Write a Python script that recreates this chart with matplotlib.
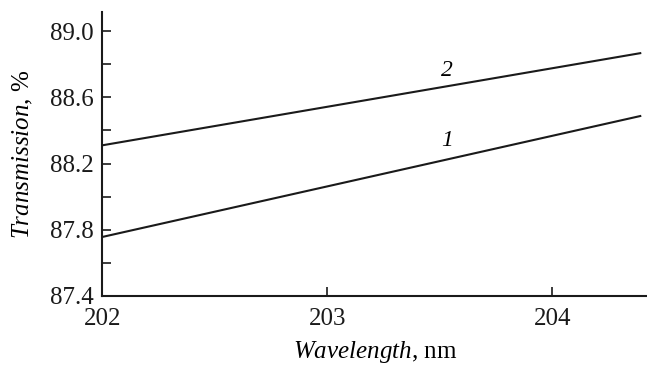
import numpy as np
import matplotlib.pyplot as plt

plt.rcParams['font.family'] = ['Liberation Serif', 'DejaVu Serif']
plt.rcParams['mathtext.fontset'] = 'custom'
plt.rcParams['mathtext.rm'] = 'Liberation Serif'
plt.rcParams['mathtext.it'] = 'Liberation Serif:italic'

wl = [202.0, 204.39]
trans1 = [87.756, 88.487]
trans2 = [88.31, 88.867]

fig = plt.figure(figsize=(6.47, 3.68), dpi=100)
ax = fig.add_axes([0.158, 0.196, 0.842, 0.771])

ax.plot(wl, trans1, color='#1a1a1a', lw=1.5)
ax.plot(wl, trans2, color='#1a1a1a', lw=1.5)

ax.text(203.53, 88.342, '1', fontsize=17, style='italic', ha='center', va='center')
ax.text(203.53, 88.765, '2', fontsize=17, style='italic', ha='center', va='center')

ax.set_xlim(202, 204.42)
ax.set_ylim(87.4, 89.115)
ax.set_xticks([202, 203, 204])
ax.set_yticks([87.4, 87.8, 88.2, 88.6, 89.0])
ax.set_yticks(np.arange(87.6, 89.0, 0.4), minor=True)
ax.set_yticklabels(['87.4', '87.8', '88.2', '88.6', '89.0'])

ax.spines['top'].set_visible(False)
ax.spines['right'].set_visible(False)
for s in ['left', 'bottom']:
    ax.spines[s].set_linewidth(1.5)
    ax.spines[s].set_color('#1a1a1a')

ax.tick_params(which='both', direction='in', length=6.5, width=1.2, colors='#1a1a1a', labelsize=18)
ax.tick_params(axis='y', pad=6)
ax.tick_params(axis='x', pad=9)

ax.set_xlabel(r'$\it{Wavelength}$, nm', fontsize=18, labelpad=6)
ax.set_ylabel(r'$\it{Transmission}$, %', fontsize=18, labelpad=11)

fig.savefig('out.png', dpi=100)
